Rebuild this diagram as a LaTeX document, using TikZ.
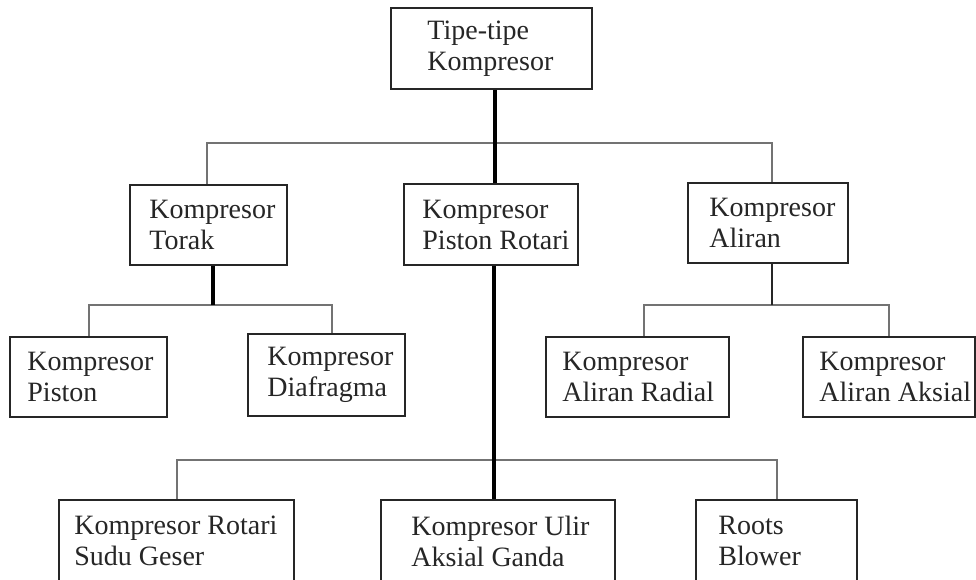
\documentclass[tikz,border=0pt]{standalone}
\usepackage{fontspec}
\setmainfont{Liberation Serif}
\begin{document}
\begin{tikzpicture}[x=1pt,y=-1pt,
  box/.style={draw=black!85, line width=1.6pt, rectangle, inner sep=0pt, fill=white},
  lbl/.style={anchor=west, align=left, inner sep=0pt, font=\fontsize{28}{31}\selectfont, text=black!85},
  thinln/.style={draw=black!55, line width=2pt},
  midln/.style={draw=black!85, line width=2pt},
  thickln/.style={draw=black, line width=3.6pt}]
\useasboundingbox (0,0) rectangle (976,579);
\clip (0,0) rectangle (976,579);
\fill[white] (0,0) rectangle (976,579);

% bus levels
\coordinate (bus1) at (0,143);
\coordinate (bus2) at (0,305);
\coordinate (bus3) at (0,460);

% boxes
\node[box, minimum width=201pt, minimum height=81pt] (top) at (491.5,48.5) {};
\node[box, minimum width=157pt, minimum height=80pt] (torak) at (208.5,225) {};
\node[box, minimum width=174pt, minimum height=81pt] (mid) at (491,224.5) {};
\node[box, minimum width=160pt, minimum height=80pt] (aliran) at (768,223) {};
\node[box, minimum width=157pt, minimum height=80pt] (piston) at (88.5,377) {};
\node[box, minimum width=157pt, minimum height=82pt] (diaf) at (326.5,375) {};
\node[box, minimum width=183pt, minimum height=80pt] (radial) at (637.5,377) {};
\node[box, minimum width=172pt, minimum height=80pt] (aksial) at (889,377) {};
\node[box, minimum width=235pt, minimum height=82pt] (b1) at (176.5,541) {};
\node[box, minimum width=234pt, minimum height=82pt] (b2) at (498,541) {};
\node[box, minimum width=161pt, minimum height=82pt] (b3) at (776.5,541) {};

% connectors
\draw[thinln] ([xshift=-1.5pt]torak.north) -- ([xshift=-1.5pt]torak.north |- bus1)
  -- ([xshift=4pt]aliran.north |- bus1) -- ([xshift=4pt]aliran.north);
\draw[thinln] (piston.north) -- (piston.north |- bus2)
  -- ([xshift=5.5pt]diaf.north |- bus2) -- ([xshift=5.5pt]diaf.north);
\draw[thinln] ([xshift=6.5pt]radial.north) -- ([xshift=6.5pt]radial.north |- bus2)
  -- (aksial.north |- bus2) -- (aksial.north);
\draw[thinln] (b1.north) -- (b1.north |- bus3) -- (b3.north |- bus3) -- (b3.north);
\draw[midln] ([xshift=4pt]aliran.south) -- ([xshift=4pt]aliran.south |- bus2);
\draw[thickln] ([xshift=3.5pt]top.south) -- ([xshift=3.5pt]top.south |- mid.north);
\draw[thickln] ([xshift=4.5pt]torak.south) -- ([xshift=4.5pt]torak.south |- bus2);
\draw[thickln] ([xshift=3pt]mid.south) -- ([xshift=3pt]mid.south |- b2.north);

% labels
\node[lbl] (top-t) at ([xshift=37pt]top.west) {Tipe-tipe\\Kompresor};
\node[lbl] (torak-t) at ([xshift=20pt]torak.west) {Kompresor\\Torak};
\node[lbl] (mid-t) at ([xshift=19pt]mid.west) {Kompresor\\Piston Rotari};
\node[lbl] (aliran-t) at ([xshift=22pt]aliran.west) {Kompresor\\Aliran};
\node[lbl] (piston-t) at ([xshift=18pt]piston.west) {Kompresor\\Piston};
\node[lbl] (diaf-t) at ([xshift=20pt]diaf.west) {Kompresor\\Diafragma};
\node[lbl] (radial-t) at ([xshift=17pt]radial.west) {Kompresor\\Aliran Radial};
\node[lbl] (aksial-t) at ([xshift=17pt]aksial.west) {Kompresor\\Aliran Aksial};
\node[lbl] (b1-t) at ([xshift=16pt]b1.west) {Kompresor Rotari\\Sudu Geser};
\node[lbl] (b2-t) at ([xshift=31pt]b2.west) {Kompresor Ulir\\Aksial Ganda};
\node[lbl] (b3-t) at ([xshift=23pt]b3.west) {Roots\\Blower};
\end{tikzpicture}
\end{document}
